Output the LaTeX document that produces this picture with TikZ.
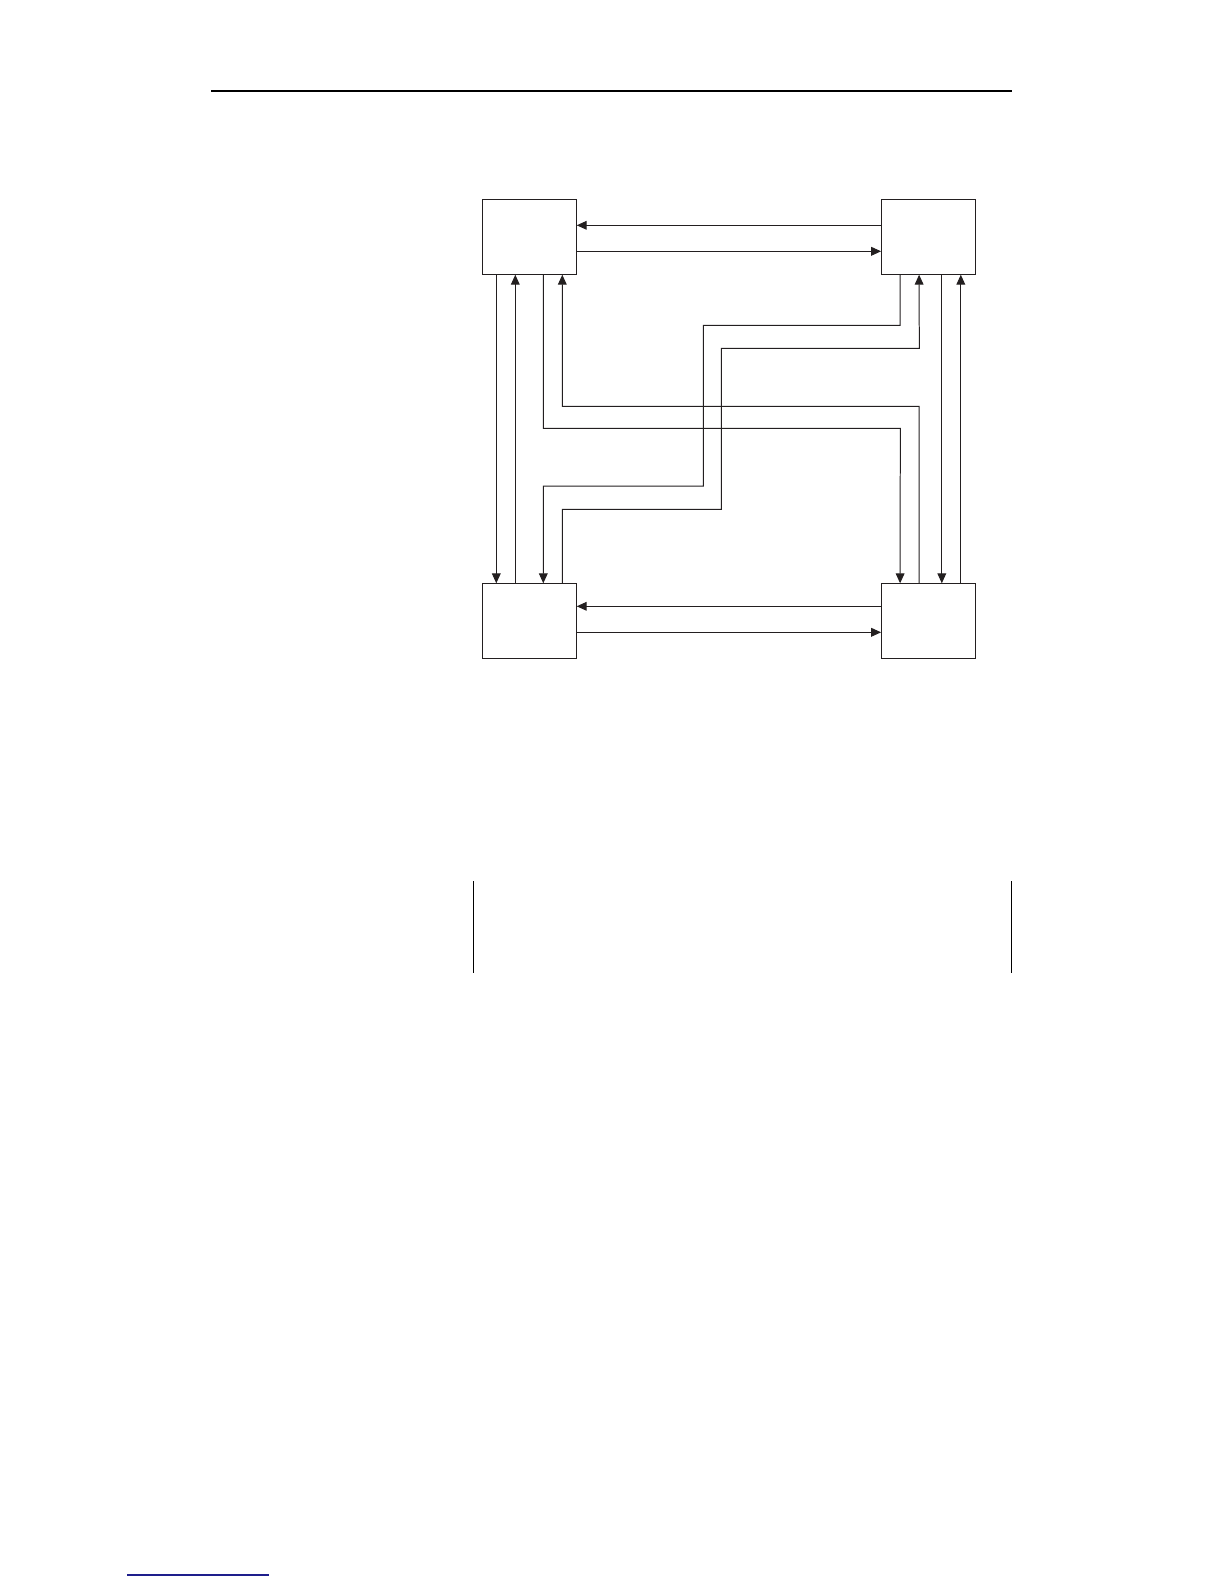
\documentclass[tikz,border=0pt]{standalone}
\usepackage{tikz}
\usepackage{xcolor}
\usetikzlibrary{arrows.meta}

\definecolor{inkline}{RGB}{35,31,32}
\definecolor{linkblue}{RGB}{30,30,140}

\tikzset{
    unitbox/.style={draw=inkline, line width=0.55pt, minimum width=47.2bp, minimum height=37.7bp, inner sep=0pt, outer sep=0pt},
    flow/.style={draw=inkline, line width=0.5pt, -{Triangle[length=5bp, width=4.4bp]}},
    pagerule/.style={line width=0.65pt}
}

\begin{document}
\begin{tikzpicture}[x=0.5bp, y=-0.5bp]
            \useasboundingbox (0,0) rectangle (1224,1584);
            % page rules
            \draw[pagerule] (211,91) -- (1012,91);
            \draw[pagerule] (473.3,881) -- (473.3,973);
            \draw[pagerule] (1011.7,881) -- (1011.7,973);
            \draw[linkblue, line width=0.6pt] (127,1575) -- (269,1575);
            % boxes
            \node[unitbox] (tl) at (529.5,237) {};
            \node[unitbox] (tr) at (928.3,237) {};
            \node[unitbox] (bl) at (529.5,621) {};
            \node[unitbox] (br) at (928.3,621) {};
            % horizontal links
            \draw[flow] ([yshift=-13bp]tr.north west) -- ([yshift=-13bp]tl.north east);
            \draw[flow] ([yshift=-26bp]tl.north east) -- ([yshift=-26bp]tr.north west);
            \draw[flow] ([yshift=-11.5bp]br.north west) -- ([yshift=-11.5bp]bl.north east);
            \draw[flow] ([yshift=-24.5bp]bl.north east) -- ([yshift=-24.5bp]br.north west);
            % vertical links
            \draw[flow] ([xshift=7bp]tl.south west) -- ([xshift=7bp]bl.north west);
            \draw[flow] ([xshift=16.5bp]bl.north west) -- ([xshift=16.5bp]tl.south west);
            \draw[flow] ([xshift=30.35bp]tr.south west) -- ([xshift=30.35bp]br.north west);
            \draw[flow] ([xshift=39.85bp]br.north west) -- ([xshift=39.85bp]tr.south west);
            % crossing links
            \draw[flow] ([xshift=30.5bp]tl.south west) |- (900.3,428.3) -- ([xshift=9.5bp]br.north west);
            \draw[flow] ([xshift=19bp]br.north west) |- (562.3,406.3) -- ([xshift=40bp]tl.south west);
            \draw[flow] ([xshift=9.5bp]tr.south west) |- (703.3,325.3) |- (543.3,486) -- ([xshift=30.5bp]bl.north west);
            \draw[flow] ([xshift=40bp]bl.north west) |- (721.3,509.3) |- (919.3,348.3) -- ([xshift=19bp]tr.south west);
        \end{tikzpicture}
\end{document}
